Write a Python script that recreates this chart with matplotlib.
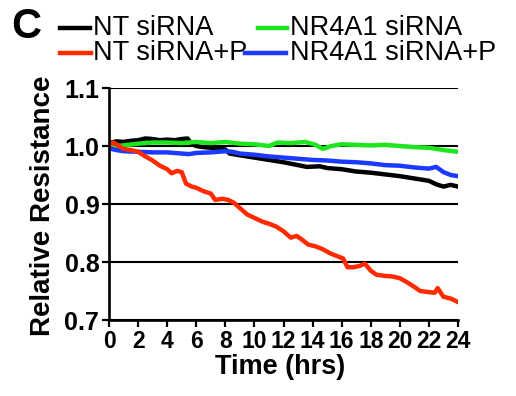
import matplotlib
matplotlib.use("Agg")
import matplotlib.pyplot as plt
from matplotlib.lines import Line2D

# ---- data ----
series_labels = ["NT siRNA", "NR4A1 siRNA", "NT siRNA+P", "NR4A1 siRNA+P"]

nt_t = [0, 0.5, 1.0, 1.5, 2.0, 2.5, 3.0, 3.5, 4.0, 4.5, 5.0, 5.4, 5.7, 6.0, 6.5, 7.0,
        7.5, 8.0, 8.3, 9.0, 10.0, 11.0, 12.0, 13.0, 13.6, 14.5, 15.0, 16.0, 17.0, 18.0,
        19.0, 20.0, 21.0, 22.0, 22.5, 23.0, 23.5, 24.0]
nt_v = [1.005, 1.008, 1.007, 1.009, 1.010, 1.013, 1.012, 1.010, 1.011, 1.010, 1.012,
        1.013, 1.003, 1.000, 0.998, 0.997, 0.995, 0.994, 0.987, 0.984, 0.980, 0.976,
        0.972, 0.967, 0.964, 0.965, 0.962, 0.960, 0.956, 0.954, 0.951, 0.948, 0.944,
        0.940, 0.934, 0.930, 0.933, 0.930]

nr_t = [0, 1, 2, 3, 4, 5, 6, 7, 8, 9, 10, 11, 11.6, 12.5, 13.5, 14.2, 14.7, 15.3, 16,
        17, 18, 19, 20, 21, 22, 23, 24]
nr_v = [0.999, 1.001, 1.004, 1.006, 1.006, 1.005, 1.007, 1.005, 1.007, 1.004, 1.003,
        1.000, 1.006, 1.005, 1.007, 1.002, 0.995, 1.000, 1.003, 1.002, 1.001, 1.002,
        1.000, 0.998, 0.997, 0.993, 0.990]

ntp_t = [0, 0.3, 1.0, 1.5, 2.0, 2.5, 3.0, 3.5, 4.0, 4.3, 4.7, 5.0, 5.3, 5.7, 6.0, 6.5,
         7.0, 7.3, 7.8, 8.2, 8.6, 9.0, 9.5, 10.0, 10.6, 11.0, 11.5, 12.0, 12.5, 12.9,
         13.3, 13.7, 14.2, 14.7, 15.2, 15.7, 16.1, 16.4, 16.8, 17.2, 17.6, 18.0, 18.4,
         19.0, 19.5, 20.0, 20.5, 21.0, 21.4, 22.0, 22.4, 22.6, 23.0, 23.5, 24.0]
ntp_v = [1.000, 1.006, 0.995, 0.993, 0.990, 0.982, 0.975, 0.966, 0.960, 0.953, 0.957,
         0.955, 0.935, 0.930, 0.928, 0.922, 0.918, 0.907, 0.909, 0.907, 0.902, 0.893,
         0.882, 0.876, 0.869, 0.866, 0.861, 0.853, 0.842, 0.845, 0.838, 0.830, 0.827,
         0.822, 0.815, 0.810, 0.806, 0.791, 0.791, 0.793, 0.797, 0.785, 0.778, 0.776,
         0.775, 0.772, 0.765, 0.757, 0.750, 0.748, 0.747, 0.755, 0.740, 0.737, 0.731]

nrp_t = [0, 0.5, 1, 2, 3, 4, 5, 5.5, 6, 7, 8, 8.5, 9, 10, 11, 12, 13, 14, 15, 16, 17,
         18, 19, 20, 21, 22, 22.5, 23, 23.5, 24]
nrp_v = [0.996, 0.993, 0.991, 0.990, 0.989, 0.989, 0.987, 0.986, 0.988, 0.989, 0.991,
         0.990, 0.987, 0.985, 0.982, 0.980, 0.978, 0.976, 0.975, 0.973, 0.972, 0.970,
         0.967, 0.966, 0.963, 0.961, 0.964, 0.955, 0.950, 0.948]

x_ticks = list(range(0, 25, 2))
y_ticks = [0.7, 0.8, 0.9, 1.0, 1.1]
y_ticklabels = ["0.7", "0.8", "0.9", "1.0", "1.1"]

colors = ["#000000", "#1ee61e", "#ff2a00", "#1a3aff"]

# ---- figure ----
W, H = 516, 396
fig = plt.figure(figsize=(W / 100, H / 100), dpi=100)
FONT = "Liberation Sans"

def fx(px):
    return px / W

def fy(py):
    return 1 - py / H

ax = fig.add_axes([fx(109), fy(320), fx(458) - fx(109), fy(88) - fy(320)])

lw = 3.2
ax.plot(nt_t, nt_v, color=colors[0], lw=lw, zorder=3)
ax.plot(nr_t, nr_v, color=colors[1], lw=lw, zorder=4)
ax.plot(nrp_t, nrp_v, color=colors[3], lw=lw, zorder=5)
ax.plot(ntp_t, ntp_v, color=colors[2], lw=lw, zorder=6)

ax.set_xlim(0, 24)
ax.set_ylim(0.7, 1.1)
ax.set_xticks(x_ticks)
ax.set_xticklabels([str(t) for t in x_ticks], fontsize=16.5, fontweight="bold", family=FONT)
ax.set_yticks(y_ticks)
ax.set_yticklabels(y_ticklabels, fontsize=18, fontweight="bold", family=FONT)

for s in ["top", "right"]:
    ax.spines[s].set_visible(False)
for s in ["left", "bottom"]:
    ax.spines[s].set_linewidth(1.9)
    ax.spines[s].set_zorder(7)

ax.tick_params(axis="both", direction="out", length=5, width=1.6, color="black")
ax.tick_params(axis="y", pad=2)
ax.tick_params(axis="x", pad=2.5)
ax.yaxis.grid(True, color="black", lw=1.5)
ax.set_axisbelow(True)

fig.text(fx(280), fy(374), "Time (hrs)", fontsize=19.5, fontweight="bold", family=FONT,
         ha="center", va="baseline")
fig.text(fx(43), fy(206), "Relative Resistance", fontsize=20, fontweight="bold",
         family=FONT, ha="center", va="center", rotation=90)

# panel letter
fig.text(fx(11), fy(27), "C", fontsize=30, fontweight="bold", family=FONT,
         ha="left", va="center")

# legend (manual, two columns)
leg = [
    (series_labels[0], colors[0], 60, 90, 93, 28),
    (series_labels[1], colors[1], 258, 287, 290, 28),
    (series_labels[2], colors[2], 60, 91, 93, 53),
    (series_labels[3], colors[3], 245, 286, 290, 53),
]
for lab, c, x0, x1, tx, y in leg:
    fig.add_artist(Line2D([fx(x0), fx(x1)], [fy(y), fy(y)], color=c, lw=3.2,
                          transform=fig.transFigure))
    fig.text(fx(tx), fy(y), lab, fontsize=19.5, family=FONT, ha="left", va="center")

fig.savefig("out.png", dpi=100)
